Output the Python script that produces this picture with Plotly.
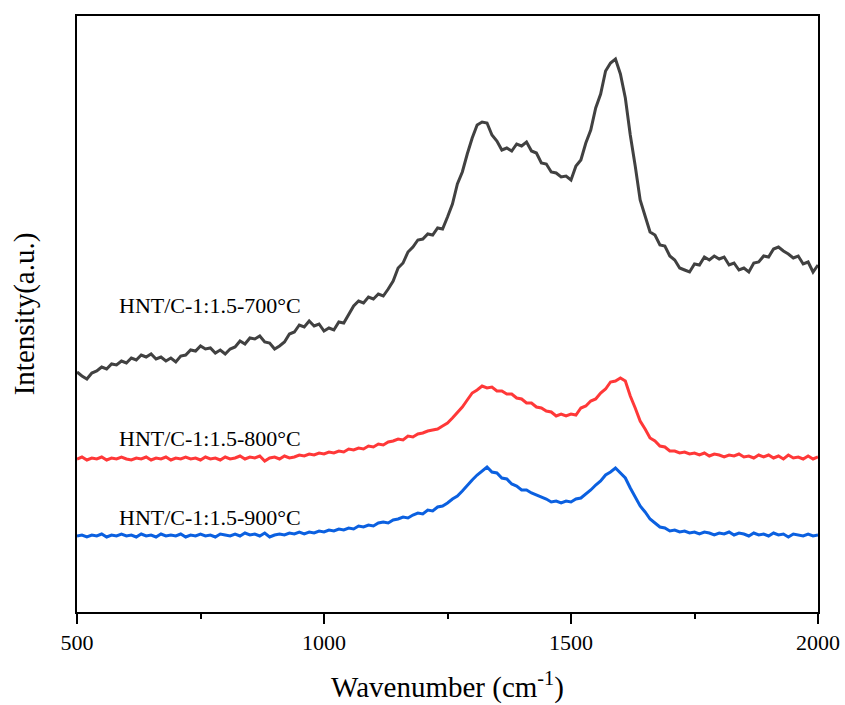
import plotly.graph_objects as go

wavenumber = list(range(500, 2001, 10))

intensity_700 = [
    240, 236, 233, 239, 241, 245, 243, 248, 247, 251,
    249, 254, 252, 257, 255, 258, 253, 255, 251, 254,
    250, 256, 257, 262, 261, 266, 263, 264, 259, 262,
    258, 263, 265, 271, 268, 274, 273, 276, 270, 269,
    263, 266, 270, 278, 280, 287, 285, 291, 286, 288,
    281, 284, 282, 290, 289, 297, 306, 311, 309, 315,
    313, 318, 316, 323, 331, 344, 349, 360, 365, 372,
    373, 378, 377, 384, 383, 395, 408, 428, 440, 458,
    474, 487, 490, 489, 477, 471, 462, 464, 461, 468,
    466, 470, 461, 459, 449, 448, 440, 439, 435, 436,
    432, 446, 452, 469, 482, 504, 518, 541, 549, 553,
    538, 514, 477, 446, 412, 396, 380, 377, 367, 366,
    356, 352, 344, 342, 340, 348, 347, 355, 352, 356,
    353, 355, 347, 349, 342, 344, 340, 349, 350, 356,
    355, 363, 365, 361, 358, 354, 356, 348, 350, 340,
    347,
]

intensity_800 = [
    153, 155, 152, 154, 153, 155, 152, 154, 153, 155,
    153, 152, 154, 153, 155, 152, 154, 153, 155, 152,
    154, 153, 155, 153, 154, 152, 155, 153, 154, 152,
    155, 153, 154, 156, 153, 155, 154, 156, 151, 154,
    155, 153, 156, 154, 155, 157, 156, 158, 157, 159,
    158, 160, 159, 161, 160, 163, 162, 164, 163, 166,
    165, 168, 167, 170, 171, 173, 172, 176, 175, 178,
    179, 181, 182, 183, 186, 189, 194, 199, 205, 212,
    219, 222, 226, 224, 225, 221, 221, 218, 218, 214,
    213, 209, 209, 205, 204, 201, 200, 196, 198, 196,
    198, 197, 204, 206, 211, 213, 219, 223, 230, 231,
    234, 231, 216, 204, 191, 183, 174, 171, 166, 165,
    161, 161, 159, 160, 158, 159, 157, 159, 156, 158,
    157, 155, 157, 156, 158, 155, 156, 154, 157, 155,
    157, 154, 156, 153, 157, 154, 155, 153, 156, 153,
    155,
]

intensity_900 = [
    76, 77, 75, 77, 76, 78, 75, 77, 76, 78,
    76, 77, 75, 78, 76, 77, 75, 78, 76, 77,
    76, 78, 75, 77, 76, 78, 76, 77, 75, 78,
    77, 76, 78, 76, 79, 77, 78, 76, 79, 75,
    77, 78, 77, 79, 78, 80, 78, 80, 79, 81,
    80, 82, 81, 83, 82, 84, 83, 86, 85, 87,
    86, 89, 90, 89, 92, 93, 95, 94, 97, 99,
    98, 102, 101, 105, 106, 109, 113, 116, 121, 127,
    132, 137, 141, 145, 140, 139, 134, 133, 128, 126,
    122, 122, 119, 117, 115, 113, 110, 111, 109, 111,
    110, 113, 114, 118, 122, 127, 131, 137, 140, 144,
    139, 134, 124, 115, 106, 100, 93, 89, 85, 84,
    81, 82, 80, 81, 79, 80, 78, 80, 79, 77,
    79, 78, 80, 77, 79, 78, 76, 79, 77, 78,
    76, 79, 77, 78, 75, 78, 77, 76, 78, 76,
    77,
]

series_names = ["HNT/C-1:1.5-700°C", "HNT/C-1:1.5-800°C", "HNT/C-1:1.5-900°C"]
series_values = [intensity_700, intensity_800, intensity_900]
series_colors = ["#414141", "#FF3838", "#0B60E0"]
label_x = [581, 581, 581]
label_y = [307, 174, 95]

x_tickvals = [500, 1000, 1500, 2000]
x_ticktext = ["500", "1000", "1500", "2000"]

SERIF = "Liberation Serif"

fig = go.Figure()
for name, vals, col in zip(series_names, series_values, series_colors):
    fig.add_trace(go.Scatter(x=wavenumber, y=vals, mode="lines", name=name,
                             line=dict(color=col, width=3), showlegend=False))

for name, lx, ly in zip(series_names, label_x, label_y):
    fig.add_annotation(x=lx, y=ly, text=name, showarrow=False, xanchor="left",
                       yanchor="middle", font=dict(family=SERIF, size=22, color="black"))

fig.update_layout(
    template="none",
    width=845, height=705,
    margin=dict(l=77, r=27, t=16, b=93, pad=0),
    paper_bgcolor="white", plot_bgcolor="white",
    font=dict(family=SERIF, color="black", size=22),
)
fig.update_xaxes(
    range=[500, 2000], showline=True, linecolor="black", linewidth=2, mirror=True,
    showgrid=False, zeroline=False, ticks="outside", ticklen=10, tickwidth=2, tickcolor="black",
    tickvals=x_tickvals, ticktext=x_ticktext, ticklabeloverflow="allow",
    tickfont=dict(family=SERIF, size=22, color="black"),
    minor=dict(ticks="outside", ticklen=5, tickwidth=2, tickcolor="black", dtick=250, tick0=500,
               showgrid=False),
    title=dict(text="Wavenumber (cm<sup>-1</sup>)", font=dict(family=SERIF, size=29, color="black"),
               standoff=22),
)
fig.update_yaxes(
    range=[0, 596], showline=True, linecolor="black", linewidth=2, mirror=True,
    showgrid=False, zeroline=False, showticklabels=False, ticks="",
    title=dict(text="Intensity(a.u.)", font=dict(family=SERIF, size=29, color="black"),
               standoff=32),
)

fig.write_html("out.html")
